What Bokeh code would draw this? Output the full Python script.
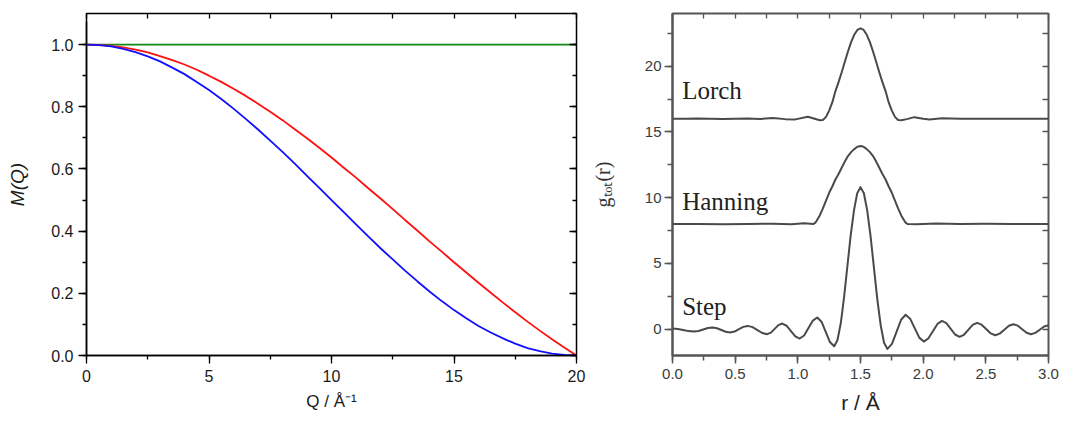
import math
from bokeh.plotting import figure
from bokeh.models import (Label, LinearAxis, SingleIntervalTicker, FixedTicker,
                          PrintfTickFormatter)
from bokeh.layouts import row
from bokeh.embed import file_html
from bokeh.resources import INLINE

# ---------------- left panel data: modification functions M(Q) ----------------
Q = [0.0, 0.5, 1.0, 1.5, 2.0, 2.5, 3.0, 3.5, 4.0, 4.5, 5.0, 5.5, 6.0, 6.5, 7.0, 7.5,
     8.0, 8.5, 9.0, 9.5, 10.0, 10.5, 11.0, 11.5, 12.0, 12.5, 13.0, 13.5, 14.0, 14.5,
     15.0, 15.5, 16.0, 16.5, 17.0, 17.5, 18.0, 18.5, 19.0, 19.5, 20.0]
M_lorch = [1.000, 0.999, 0.996, 0.991, 0.984, 0.975, 0.963, 0.950, 0.936, 0.919,
           0.900, 0.880, 0.858, 0.835, 0.810, 0.784, 0.757, 0.728, 0.699, 0.668,
           0.637, 0.604, 0.572, 0.538, 0.505, 0.471, 0.436, 0.402, 0.367, 0.334,
           0.300, 0.267, 0.234, 0.202, 0.170, 0.139, 0.109, 0.080, 0.052, 0.026, 0.000]
M_hanning = [1.000, 0.998, 0.994, 0.986, 0.976, 0.962, 0.946, 0.926, 0.905, 0.880,
             0.854, 0.825, 0.794, 0.761, 0.727, 0.691, 0.655, 0.617, 0.578, 0.539,
             0.500, 0.461, 0.422, 0.383, 0.345, 0.309, 0.273, 0.239, 0.206, 0.175,
             0.146, 0.120, 0.095, 0.074, 0.055, 0.038, 0.024, 0.014, 0.006, 0.002, 0.000]
Q_step = [0.0, 20.0]
M_step = [1.0, 1.0]

# ---------------- right panel data: g_tot(r) ----------------
r_lorch = [0.0, 0.1, 0.2, 0.3, 0.4, 0.5, 0.6, 0.7, 0.8, 0.9, 0.98, 1.08, 1.175, 1.2,
           1.225, 1.25, 1.275, 1.3, 1.325, 1.35, 1.375, 1.4, 1.425, 1.45, 1.475, 1.5,
           1.525, 1.55, 1.575, 1.6, 1.625, 1.65, 1.675, 1.7, 1.725, 1.75, 1.775, 1.8,
           1.825, 1.87, 1.93, 2.0, 2.05, 2.15, 2.3, 2.5, 2.7, 2.9, 3.0]
g_lorch = [16.0, 16.0, 16.02, 16.0, 15.98, 16.0, 16.02, 15.98, 16.06, 15.97, 15.95, 16.15,
           15.88, 15.9, 16.14, 16.62, 17.24, 18.10, 18.78, 19.53, 20.33, 21.11, 21.82,
           22.38, 22.75, 22.87, 22.75, 22.38, 21.82, 21.11, 20.33, 19.53, 18.78, 18.10,
           17.24, 16.62, 16.14, 15.9, 15.88, 15.97, 16.12, 16.0, 15.94, 16.03, 16.0,
           16.0, 16.0, 16.0, 16.0]

r_hanning = [0.0, 0.2, 0.4, 0.6, 0.8, 0.95, 1.05, 1.125, 1.14, 1.15, 1.175, 1.2, 1.225,
             1.25, 1.275, 1.3, 1.325, 1.35, 1.375, 1.4, 1.425, 1.45, 1.475, 1.5, 1.525,
             1.55, 1.575, 1.6, 1.625, 1.65, 1.675, 1.7, 1.725, 1.75, 1.775, 1.8, 1.825,
             1.85, 1.86, 1.875, 1.95, 2.1, 2.3, 2.5, 2.7, 3.0]
g_hanning = [8.0, 8.0, 7.98, 8.0, 8.02, 7.98, 8.05, 8.0, 8.1, 8.24, 8.65, 9.19, 9.78,
             10.37, 10.85, 11.38, 11.80, 12.27, 12.74, 13.16, 13.46, 13.69, 13.87, 13.93,
             13.87, 13.69, 13.46, 13.16, 12.74, 12.27, 11.80, 11.38, 10.85, 10.37, 9.78,
             9.19, 8.65, 8.24, 8.1, 8.0, 7.97, 8.03, 8.0, 8.02, 8.0, 8.0]

r_step = [0.0, 0.0425, 0.085, 0.1275, 0.17, 0.2075, 0.245, 0.2825, 0.32, 0.355, 0.39,
          0.425, 0.46, 0.495, 0.53, 0.565, 0.60, 0.639, 0.6775, 0.716, 0.755, 0.785,
          0.815, 0.845, 0.875, 0.91, 0.945, 0.98, 1.015, 1.05, 1.085, 1.12, 1.155,
          1.189, 1.2225, 1.256, 1.29, 1.316, 1.343, 1.369, 1.395, 1.421, 1.448, 1.474,
          1.50, 1.527, 1.554, 1.581, 1.6075, 1.634, 1.661, 1.688, 1.715, 1.751, 1.7875,
          1.824, 1.86, 1.896, 1.9325, 1.969, 2.005, 2.041, 2.0775, 2.114, 2.15, 2.185,
          2.22, 2.255, 2.29, 2.325, 2.36, 2.395, 2.43, 2.466, 2.5025, 2.539, 2.575,
          2.611, 2.6475, 2.684, 2.72, 2.755, 2.79, 2.825, 2.86, 2.895, 2.93, 2.965, 3.0]
g_step = [0.05, 0.016, -0.065, -0.146, -0.18, -0.135, -0.025, 0.085, 0.13, 0.074, -0.06,
          -0.194, -0.25, -0.177, 0.0, 0.177, 0.25, 0.158, -0.065, -0.288, -0.38, -0.261,
          0.025, 0.311, 0.43, 0.263, -0.14, -0.543, -0.71, -0.476, 0.09, 0.656, 0.89,
          0.569, -0.205, -0.979, -1.3, -0.84, 0.47, 2.43, 4.75, 7.07, 9.03, 10.34,
          10.8, 10.33, 9.0, 7.01, 4.65, 2.29, 0.30, -1.03, -1.5, -1.119, -0.2,
          0.719, 1.1, 0.801, 0.08, -0.641, -0.94, -0.71, -0.155, 0.40, 0.63, 0.453,
          0.025, -0.403, -0.58, -0.425, -0.05, 0.325, 0.48, 0.342, 0.01, -0.322, -0.46,
          -0.337, -0.04, 0.257, 0.38, 0.269, 0.0, -0.269, -0.38, -0.28, -0.04, 0.2, 0.3]

curve_labels = ["Lorch", "Hanning", "Step"]
label_y = [18.15, 9.74, 1.76]

SANS = "Liberation Sans"
SERIF = "Liberation Serif"


def mirror_axis(p, where, ticker, color, major_in, minor_in=0):
    ax = LinearAxis(ticker=ticker)
    ax.major_tick_in = major_in
    ax.major_tick_out = 0
    ax.minor_tick_in = minor_in
    ax.minor_tick_out = 0
    ax.minor_tick_line_color = None if minor_in == 0 else color
    ax.major_tick_line_color = color
    ax.major_tick_line_width = 1.3
    ax.minor_tick_line_width = 1.3
    ax.axis_line_color = None
    ax.major_label_text_font_size = "0px"
    ax.major_label_standoff = 0
    ax.major_label_text_alpha = 0
    p.add_layout(ax, where)
    return ax


def label_axis(p, where, bounds, text, font, size, color, standoff):
    ax = LinearAxis(ticker=FixedTicker(ticks=[]), bounds=bounds)
    ax.axis_line_color = None
    ax.major_tick_line_color = None
    ax.minor_tick_line_color = None
    ax.major_tick_out = 0
    ax.major_tick_in = 0
    ax.minor_tick_out = 0
    ax.minor_tick_in = 0
    ax.major_label_standoff = 0
    ax.major_label_text_font_size = "0px"
    ax.axis_label = text
    ax.axis_label_text_font = font
    ax.axis_label_text_font_size = size
    ax.axis_label_text_font_style = "normal"
    ax.axis_label_text_color = color
    ax.axis_label_standoff = standoff
    p.add_layout(ax, where)
    return ax


# ---------------- left figure ----------------
p1 = figure(width=586, height=421, x_range=(0, 20), y_range=(0, 1.1),
            output_backend="svg", toolbar_location=None,
            min_border_left=86, min_border_right=10, min_border_top=12, min_border_bottom=64)
p1.grid.visible = False
p1.outline_line_color = "black"
p1.outline_line_width = 1.5
p1.background_fill_color = "white"
p1.border_fill_color = "white"

p1.xaxis.ticker = SingleIntervalTicker(interval=5, num_minor_ticks=2)
p1.yaxis.ticker = SingleIntervalTicker(interval=0.2, num_minor_ticks=2)
p1.yaxis.formatter = PrintfTickFormatter(format="%.1f")
for ax in (p1.xaxis[0], p1.yaxis[0]):
    ax.axis_line_color = "black"
    ax.axis_line_width = 1.5
    ax.major_tick_out = 8
    ax.major_tick_in = 0
    ax.minor_tick_out = 4
    ax.minor_tick_in = 0
    ax.major_tick_line_color = "black"
    ax.minor_tick_line_color = "black"
    ax.major_tick_line_width = 1.3
    ax.minor_tick_line_width = 1.3
    ax.major_label_text_font = SANS
    ax.major_label_text_font_size = "16px"
    ax.major_label_text_color = "#1a1a1a"
    ax.axis_label_text_font = SANS
    ax.axis_label_text_color = "#1a1a1a"
p1.xaxis.major_label_standoff = 6
p1.yaxis.major_label_standoff = 5
p1.yaxis.bounds = (0, 1.0745)
p1.yaxis.axis_label = "M(Q)"
p1.yaxis.axis_label_text_font_style = "italic"
p1.yaxis.axis_label_text_font_size = "19px"
p1.yaxis.axis_label_standoff = 20
p1.xaxis.axis_label = "Q / Å⁻¹"
p1.xaxis.axis_label_text_font_style = "normal"
p1.xaxis.axis_label_text_font_size = "17px"
p1.xaxis.axis_label_standoff = 7

mirror_axis(p1, "above", SingleIntervalTicker(interval=2.5, num_minor_ticks=0), "black", 5)
mirror_axis(p1, "right", SingleIntervalTicker(interval=0.2, num_minor_ticks=2), "black", 7, 4)

p1.line(Q_step, M_step, line_color="#128a12", line_width=1.8)
p1.line(Q, M_lorch, line_color="#ff1010", line_width=1.8)
p1.line(Q, M_hanning, line_color="#1010ff", line_width=1.8)

# ---------------- right figure ----------------
GRAY = "#555555"
p2 = figure(width=481, height=421, x_range=(0, 3), y_range=(-2, 24),
            output_backend="svg", toolbar_location=None,
            min_border_left=86, min_border_right=19, min_border_top=13, min_border_bottom=66)
p2.grid.visible = False
p2.outline_line_color = GRAY
p2.outline_line_width = 2
p2.background_fill_color = "white"
p2.border_fill_color = "white"

p2.xaxis.ticker = SingleIntervalTicker(interval=0.5, num_minor_ticks=2)
p2.xaxis.formatter = PrintfTickFormatter(format="%.1f")
p2.yaxis.ticker = SingleIntervalTicker(interval=5, num_minor_ticks=2)
for ax in (p2.xaxis[0], p2.yaxis[0]):
    ax.axis_line_color = GRAY
    ax.axis_line_width = 2
    ax.major_tick_out = 8
    ax.major_tick_in = 0
    ax.minor_tick_out = 5
    ax.minor_tick_in = 0
    ax.major_tick_line_color = GRAY
    ax.minor_tick_line_color = GRAY
    ax.major_tick_line_width = 1.5
    ax.minor_tick_line_width = 1.5
    ax.major_label_text_font = SANS
    ax.major_label_text_font_size = "15px"
    ax.major_label_text_color = "#3a3a3a"
p2.xaxis.major_label_standoff = 5
p2.yaxis.major_label_standoff = 3

mirror_axis(p2, "above", SingleIntervalTicker(interval=0.25, num_minor_ticks=0), GRAY, 5)
mirror_axis(p2, "right", SingleIntervalTicker(interval=2.5, num_minor_ticks=0), GRAY, 6)

label_axis(p2, "left", (-2, 21.56), "gₜₒₜ(r)", SERIF, "20px", "#333333", 28)
label_axis(p2, "below", (0.088, 3.0), "r / Å", SANS, "21px", "#222222", 9)

for rr, gg in ((r_lorch, g_lorch), (r_hanning, g_hanning), (r_step, g_step)):
    p2.line(rr, gg, line_color="#4a4a4a", line_width=2, line_join="round")

for txt, yy in zip(curve_labels, label_y):
    p2.add_layout(Label(x=0.077, y=yy, text=txt, text_align="left", text_baseline="alphabetic",
                        text_font=SERIF, text_font_size="25px", text_color="#222222"))

layout = row(p1, p2)
open("out.html", "w").write(file_html(layout, INLINE))
